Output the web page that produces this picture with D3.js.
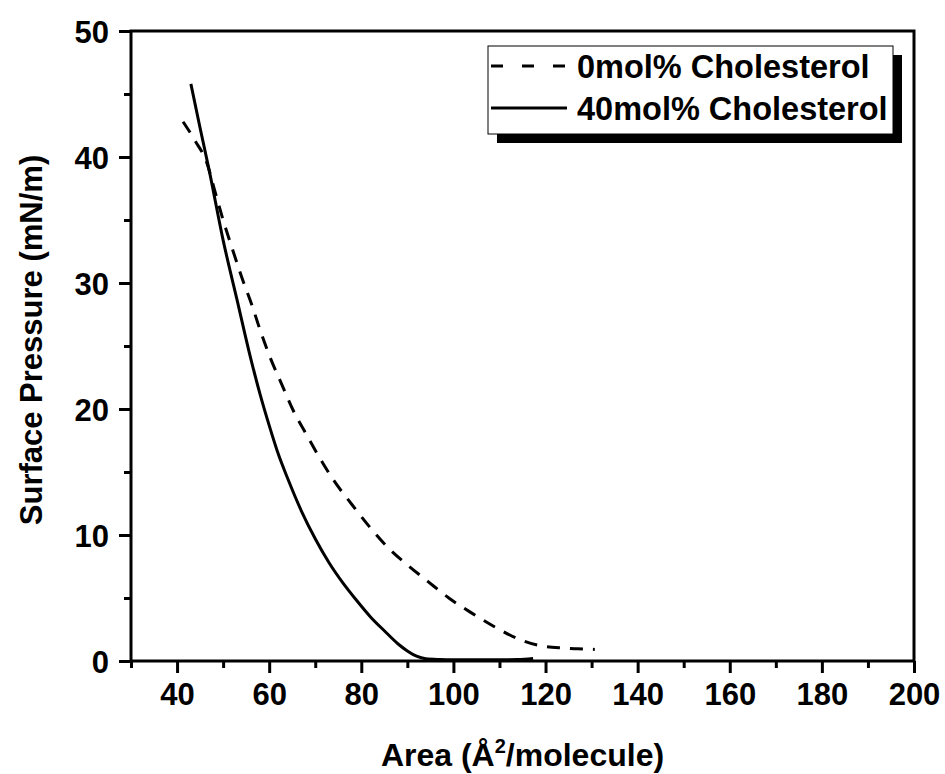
<!DOCTYPE html>
<html>
<head>
<meta charset="utf-8">
<script src="https://cdn.jsdelivr.net/npm/d3@7"></script>
<style>
	body { margin: 0; background: #fff; }
	text { font-family: "Liberation Sans", Arial, sans-serif; font-weight: bold; fill: #000; }
</style>
</head>
<body>
<div id="chart"></div>
<script>
// data
var area0 = [41.3, 43.9, 46.5, 48.2, 50, 52.1, 54.1, 56.3, 58, 60.2, 62.8, 65.2, 68.2, 71, 73.9, 78, 81.9, 85.8, 90.1, 94.5, 99, 104, 109, 113.8, 118.4, 123.8, 127, 130.7];
var pressure0 = [42.8, 41.3, 39.5, 37.3, 35, 32.6, 30.4, 28.2, 26.3, 24.1, 21.9, 19.9, 17.9, 16.1, 14.4, 12.4, 10.6, 9, 7.6, 6.3, 5, 3.8, 2.7, 1.8, 1.25, 1.03, 0.97, 0.92];

var area40 = [43, 45, 47, 50, 53, 56, 58, 60, 62, 64, 67, 70, 73, 76, 79, 82, 85, 88, 90, 92, 94, 97, 100, 105, 110, 114, 117.3];
var pressure40 = [45.8, 42.3, 38.9, 33.4, 28.7, 24, 21.2, 18.7, 16.4, 14.5, 11.9, 9.7, 7.8, 6.2, 4.8, 3.5, 2.4, 1.35, 0.8, 0.38, 0.18, 0.12, 0.1, 0.1, 0.1, 0.12, 0.2];

var seriesNames = ["0mol% Cholesterol", "40mol% Cholesterol"];

var xTicks = [40, 60, 80, 100, 120, 140, 160, 180, 200];
var xMinor = [30, 50, 70, 90, 110, 130, 150, 170, 190];
var yTicks = [0, 10, 20, 30, 40, 50];
var yMinor = [5, 15, 25, 35, 45];

// size of page
var width = 945;
var height = 774;
var margin = { left: 131, right: 31, top: 31, bottom: 113 };

var svg = d3.select("#chart")
	.append("svg")
	.attr("width", width)
	.attr("height", height);

var x = d3.scaleLinear()
	.domain([30, 200])
	.range([margin.left, width - margin.right]);

var y = d3.scaleLinear()
	.domain([0, 50])
	.range([height - margin.bottom, margin.top]);

// frame
svg.append("rect")
	.attr("x", x(30))
	.attr("y", y(50))
	.attr("width", x(200) - x(30))
	.attr("height", y(0) - y(50))
	.style("fill", "none")
	.style("stroke", "#000")
	.style("stroke-width", 3);

// x axis: major ticks with labels, then minor ticks
svg.append("g")
	.attr("transform", "translate(0," + y(0) + ")")
	.call(d3.axisBottom(x).tickValues(xTicks).tickSize(12).tickPadding(10).tickFormat(d3.format("d")));
svg.append("g")
	.attr("transform", "translate(0," + y(0) + ")")
	.call(d3.axisBottom(x).tickValues(xMinor).tickSize(7).tickFormat(""));

var yAxis = svg.append("g")
	.attr("transform", "translate(" + x(30) + ",0)")
	.call(d3.axisLeft(y).tickValues(yTicks).tickSize(12).tickPadding(10).tickFormat(d3.format("d")));
svg.append("g")
	.attr("transform", "translate(" + x(30) + ",0)")
	.call(d3.axisLeft(y).tickValues(yMinor).tickSize(7).tickFormat(""));

svg.selectAll(".domain").remove();
svg.selectAll(".tick line").style("stroke", "#000").style("stroke-width", 3);
svg.selectAll(".tick text")
	.style("font-family", "'Liberation Sans', Arial, sans-serif")
	.style("font-weight", "bold")
	.style("font-size", "31px")
	.style("fill", "#000");
yAxis.selectAll(".tick text").attr("dy", "0.36em");

// axis titles
var xTitle = svg.append("text")
	.attr("x", (x(30) + x(200)) / 2)
	.attr("y", 766)
	.attr("text-anchor", "middle")
	.style("font-size", "32px");
xTitle.append("tspan").text("Area (Å");
xTitle.append("tspan").attr("dy", -13).style("font-size", "20px").text("2");
xTitle.append("tspan").attr("dy", 13).text("/molecule)");

svg.append("text")
	.attr("transform", "translate(42,340) rotate(-90)")
	.attr("text-anchor", "middle")
	.style("font-size", "31px")
	.text("Surface Pressure (mN/m)");

// curves
var line = d3.line()
	.x(function (d) { return x(d[0]); })
	.y(function (d) { return y(d[1]); })
	.curve(d3.curveMonotoneX);

var data0 = area0.map(function (a, i) { return [a, pressure0[i]]; });
var data40 = area40.map(function (a, i) { return [a, pressure40[i]]; });

svg.append("path")
	.attr("d", line(data0))
	.style("fill", "none")
	.style("stroke", "#000")
	.style("stroke-width", 3)
	.style("stroke-dasharray", "13,10");

svg.append("path")
	.attr("d", line(data40))
	.style("fill", "none")
	.style("stroke", "#000")
	.style("stroke-width", 3);

// legend with drop shadow
var lx = 488, ly = 46, lw = 405, lh = 88;
svg.append("rect")
	.attr("x", lx + 9)
	.attr("y", ly + 9)
	.attr("width", lw)
	.attr("height", lh)
	.style("fill", "#000");
svg.append("rect")
	.attr("x", lx)
	.attr("y", ly)
	.attr("width", lw)
	.attr("height", lh)
	.style("fill", "#fff")
	.style("stroke", "#000")
	.style("stroke-width", 1);

seriesNames.forEach(function (name, i) {
	var yy = ly + 20 + i * 42;
	svg.append("line")
		.attr("x1", lx + 3)
		.attr("x2", lx + 79)
		.attr("y1", yy)
		.attr("y2", yy)
		.style("stroke", "#000")
		.style("stroke-width", 3)
		.style("stroke-dasharray", i == 0 ? "12,19" : null);
	svg.append("text")
		.attr("x", lx + 89)
		.attr("y", yy + 12)
		.style("font-size", "32.5px")
		.text(name);
});
</script>
</body>
</html>
